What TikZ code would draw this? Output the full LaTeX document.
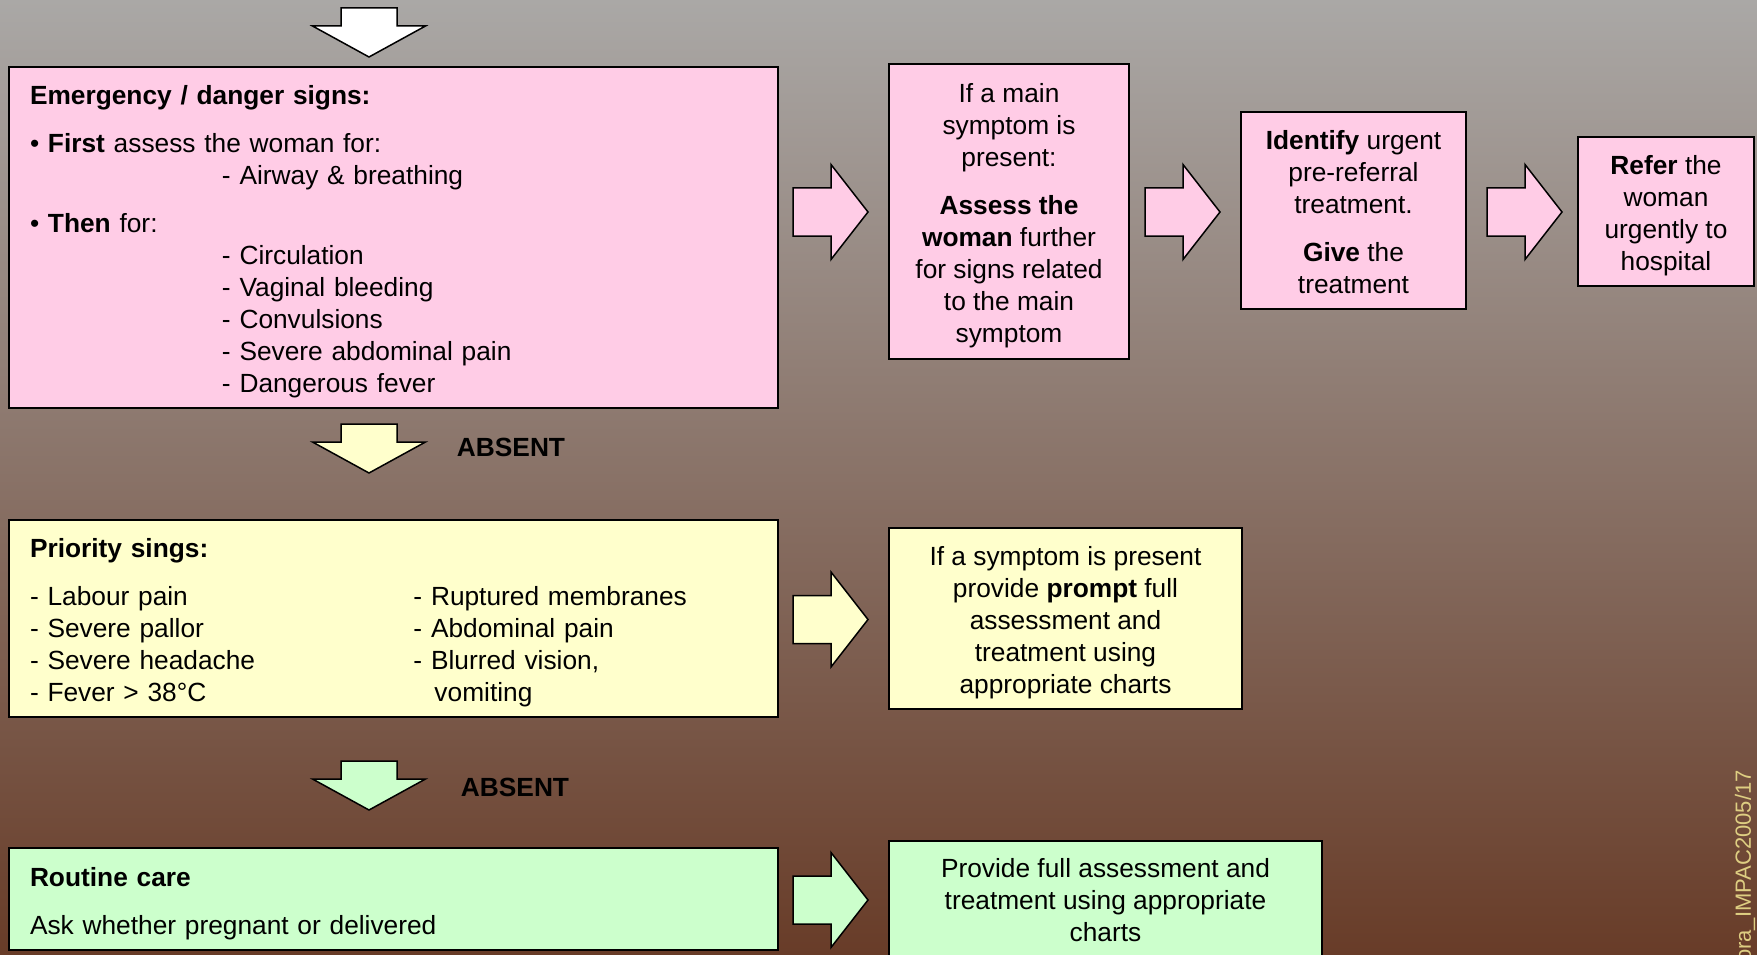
\documentclass[tikz,border=0pt]{standalone}
\usepackage{fontspec}
\setmainfont{Liberation Sans}
\usetikzlibrary{positioning}
\definecolor{bgtop}{RGB}{170,168,166}
\definecolor{bgmid}{RGB}{142,128,124}
\definecolor{bgbot}{RGB}{104,60,40}
\definecolor{pinkfill}{RGB}{255,204,230}
\definecolor{yellowfill}{RGB}{255,255,204}
\definecolor{greenfill}{RGB}{204,255,204}
\definecolor{tagcolor}{RGB}{222,206,130}
\newcommand{\boxtop}{\rule{0pt}{29pt}}
\newcommand{\boxbot}{\rule[-7pt]{0pt}{0pt}}

\begin{document}
\begin{tikzpicture}[x=1pt,y=-1pt,
    every node/.style={font=\fontsize{26.3}{32}\selectfont},
    box/.style={draw=black,line width=2pt,inner sep=0pt,align=center},
    leftbox/.style={box,align=left,inner xsep=21pt,text width=727pt,minimum height=#1},
    absent/.style={font=\fontsize{26.3}{32}\selectfont\bfseries}
    ]
  \useasboundingbox (0,0) rectangle (1757,955);
  \clip (0,0) rectangle (1757,955);
  \shade[top color=bgtop,middle color=bgmid,bottom color=bgbot] (0,0) rectangle (1757,955);

  % left column
  \node[leftbox=341pt,fill=pinkfill] (emerg) at (393.5,237.5) {\boxtop\textbf{Emergency / danger signs:}\\[16pt]
    • \textbf{First} assess the woman for:\\
    \hspace*{192pt}- Airway \& breathing\\[16pt]
    • \textbf{Then} for:\\
    \hspace*{192pt}- Circulation\\
    \hspace*{192pt}- Vaginal bleeding\\
    \hspace*{192pt}- Convulsions\\
    \hspace*{192pt}- Severe abdominal pain\\
    \hspace*{192pt}- Dangerous fever\boxbot};
  \node[leftbox=197pt,fill=yellowfill] (priority) at (393.5,618.5) {\boxtop\textbf{Priority sings:}\\[16pt]
    \makebox[383.5pt][l]{- Labour pain}- Ruptured membranes\\
    \makebox[383.5pt][l]{- Severe pallor}- Abdominal pain\\
    \makebox[383.5pt][l]{- Severe headache}- Blurred vision,\\
    \makebox[383.5pt][l]{- Fever > 38°C}\hspace*{21pt}vomiting\boxbot};
  \node[leftbox=102pt,fill=greenfill] (routine) at (393.5,899) {\boxtop\textbf{Routine care}\\[16pt]
    Ask whether pregnant or delivered\boxbot};

  % right side
  \node[box,fill=pinkfill,minimum width=240pt,minimum height=295pt] (mainsym) at (1009,211.5)
    {\boxtop If a main\\symptom is\\present:\\[16pt]\textbf{Assess the}\\\textbf{woman} further\\for signs related\\to the main\\symptom\boxbot};
  \node[box,fill=pinkfill,minimum width=225pt,minimum height=197pt] (urgent) at (1353.5,210.5)
    {\boxtop\textbf{Identify} urgent\\pre-referral\\treatment.\\[16pt]\textbf{Give} the\\treatment\boxbot};
  \node[box,fill=pinkfill,minimum width=176pt,minimum height=149pt] (refer) at (1666,211.5)
    {\boxtop\textbf{Refer} the\\woman\\urgently to\\hospital\boxbot};
  \node[box,fill=yellowfill,minimum width=353pt,minimum height=181pt] (prompt) at (1065.5,618.5)
    {\boxtop If a symptom is present\\provide \textbf{prompt} full\\assessment and\\treatment using\\appropriate charts\boxbot};
  \node[box,fill=greenfill,minimum width=433pt,minimum height=118pt] (fullcare) at (1105.5,900)
    {Provide full assessment and\\treatment using appropriate\\charts};

  % block arrows
  \foreach \p/\c in {{793,212}/pinkfill,{1145,212}/pinkfill,{1487,212}/pinkfill,
                     {793,619.5}/yellowfill,{793,900}/greenfill} {
    \filldraw[fill=\c,line width=1.5pt] (\p) ++(0,-24) -- ++(38,0) -- ++(0,-23.5) -- ++(37,47.5)
      -- ++(-37,47.5) -- ++(0,-23.5) -- ++(-38,0) -- cycle;
  }
  \foreach \p/\c in {{369,8}/white,{369,424}/yellowfill,{369,761}/greenfill} {
    \filldraw[fill=\c,line width=1.5pt] (\p) ++(-28,0) -- ++(56,0) -- ++(0,18) -- ++(28.5,0)
      -- ++(-56.5,31) -- ++(-56.5,-31) -- ++(28.5,0) -- cycle;
  }

  \node[absent] (absA) at (511,447) {ABSENT};
  \node[absent] (absB) at (515,787) {ABSENT};
  \node[rotate=90,anchor=east,inner sep=0pt,text=tagcolor,font=\fontsize{22}{26}\selectfont] (slidetag)
    at (1745,770) {ora\_IMPAC2005/17};
\end{tikzpicture}
\end{document}
